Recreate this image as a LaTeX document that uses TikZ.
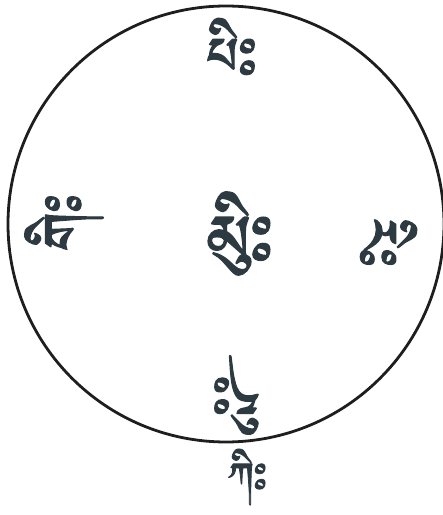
\documentclass[tikz,border=0pt]{standalone}
\usepackage{fontspec}
\usepackage{xcolor}
\usepackage{tikz}
\newfontfamily\tibfont[Script=Tibetan, FakeBold=1.6]{Jomolhari}
\definecolor{C_INK} {HTML}{2D3A42}
\definecolor{C_RING}{HTML}{1E1E1E}
\tikzset{
  %% -- seed syllable --
  SY/syl/.style={
    font=\tibfont\fontsize{66}{66}\selectfont,
    text=C_INK, inner sep=0pt
  },
  %% -- outer ring --
  SY/ring/.style={
    draw=C_RING, line width=2.8pt, circle, inner sep=0pt,
    minimum size=436pt
  },
}
\begin{document}
\begin{tikzpicture}[x=1pt, y=1pt]
\useasboundingbox (0,0) rectangle (443,515);

%% ── Ring ───────────────────────────────────────────────────────────────────
\node[SY/ring] (ring) at (226,291) {};

%% ── Syllables (each faces the centre) ──────────────────────────────────────
\node[SY/syl, font=\tibfont\fontsize{80}{80}\selectfont]
  (mid) at (240,281) {མིུཿ};
\node[SY/syl] (top) at (232,462) {པིཿ};
\node[SY/syl, rotate=90]  (lft) at (64,293)  {གིཿ};
\node[SY/syl, rotate=-90] (rgt) at (382,272) {རིཿ};
\node[SY/syl, rotate=180] (bot) at (236,120) {དིཿ};

%% below the ring
\node[SY/syl, font=\tibfont\fontsize{47}{47}\selectfont]
  (out) at (248,38) {ཀིཿ};

\end{tikzpicture}
\end{document}
